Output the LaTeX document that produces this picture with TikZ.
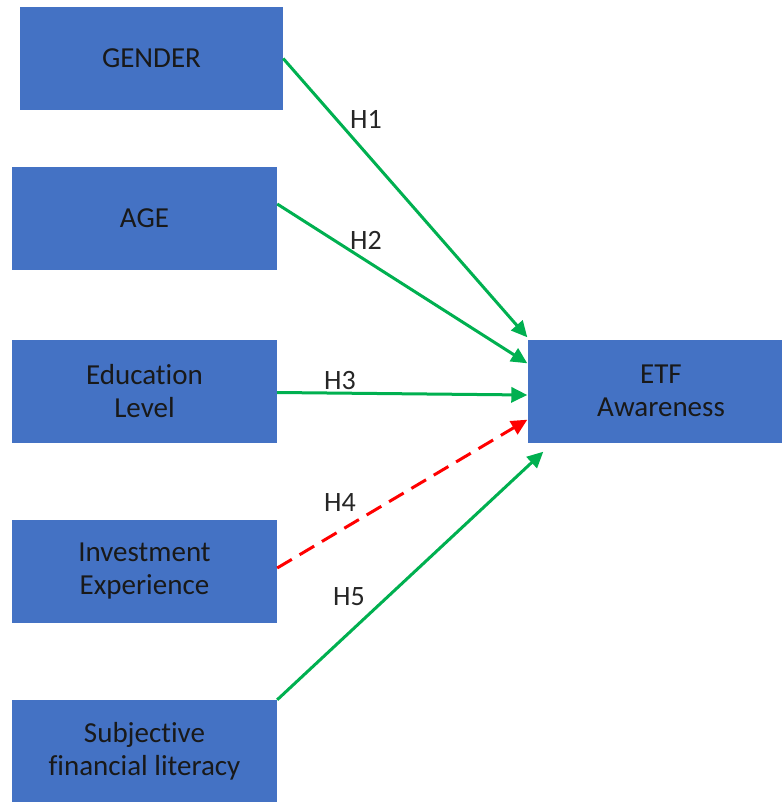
\documentclass[tikz,border=0pt]{standalone}
\usepackage{fontspec}
\setmainfont{Carlito}[Ligatures=CommonOff]
\usetikzlibrary{arrows.meta}

\definecolor{boxblue}{HTML}{4472C4}
\definecolor{hypgreen}{HTML}{00B050}
\definecolor{hypred}{HTML}{FF0000}

\begin{document}
\begin{tikzpicture}[x=1pt, y=-1pt,
                    factor/.style = {rectangle,
                                     fill=boxblue,
                                     text=black!90,
                                     minimum width=265pt,
                                     minimum height=103pt,
                                     inner sep=0pt,
                                     align=center,
                                     font=\fontsize{29}{33}\selectfont},
                    hyp/.style = {draw=hypgreen, line width=3pt,
                                  -{Triangle[length=16pt,width=15pt]}},
                    rejected/.style = {hyp, draw=hypred,
                                       dash pattern=on 17pt off 9pt},
                    hlabel/.style = {text=black!85,
                                     font=\fontsize{28}{30}\selectfont}]

    \useasboundingbox (0,0) rectangle (781,802);

    % Independent variables
    \node[factor, minimum width=263pt] (gender) at (151.5,58.5) {GENDER};
    \node[factor] (age) at (144.5,218.5) {AGE};
    \node[factor] (edu) at (144.5,391) {Education\\Level};
    \node[factor] (inv) at (144.5,571.5) {Investment\\Experience};
    \node[factor, minimum height=102pt] (subj) at (144.5,751) {Subjective\\financial literacy};

    % Dependent variable
    \node[factor, minimum width=267pt] (etf) at (661,391) {ETF\\Awareness};

    % Hypotheses
    \draw[hyp] (gender.east) -- ([yshift=2pt]etf.north west);
    \draw[hyp] ([yshift=14.5pt]age.east) -- ([yshift=-24pt]etf.north west);
    \draw[hyp] ([yshift=-1.5pt]edu.east) -- ([yshift=-4pt]etf.west);
    \draw[rejected] ([yshift=3.5pt]inv.east) -- ([yshift=23pt]etf.south west);
    \draw[hyp] (subj.north east) -- ([xshift=16pt,yshift=-9pt]etf.south west);

    % Labels
    \node[hlabel] (h1) at (366,119) {H1};
    \node[hlabel] (h2) at (366,240) {H2};
    \node[hlabel] (h3) at (340,381) {H3};
    \node[hlabel] (h4) at (340,503) {H4};
    \node[hlabel] (h5) at (349,597) {H5};

\end{tikzpicture}
\end{document}
